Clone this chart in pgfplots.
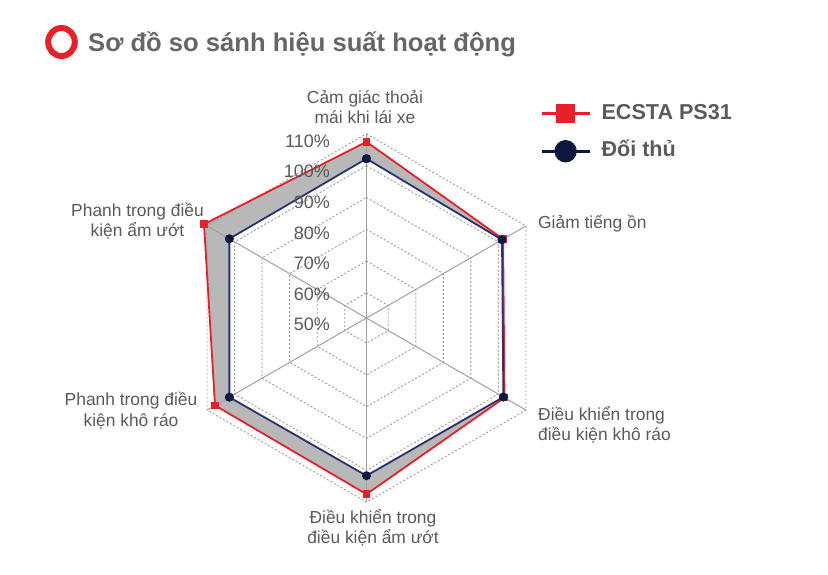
\documentclass[border=0pt]{standalone}
\usepackage{fontspec}
\setmainfont{Liberation Sans}
\usepackage{pgfplots}
\usepackage{pgfplotstable}
\pgfplotsset{compat=1.18}

\definecolor{ecsta}{RGB}{232,32,40}
\definecolor{doithu}{RGB}{40,50,115}
\definecolor{doithumark}{RGB}{12,24,66}
\definecolor{fillgray}{RGB}{184,184,184}
\definecolor{gridgray}{RGB}{155,155,155}
\definecolor{spokegray}{RGB}{160,160,160}
\definecolor{txt}{RGB}{90,90,90}
\definecolor{titlegray}{RGB}{102,102,102}

% radial scale: r = \rs*(value - \rz), in px (1px = 1pt)
\def\rs{3.18}
\def\rz{52.1}

% clockwise from the top
\pgfplotstableread{
ang ecsta doithu
90   107.5 102.2
30   101.7 101.3
-30  102.2 101.8
-90  107.5 101.7
-150 107.1 101.9
150  111.1 101.9
90   107.5 102.2
}\radar

\pgfplotstableread{
ang d
90   0
30   0
-30  0
-90  0
-150 0
150  0
90   0
}\hexa

\pgfplotstableread{
v d
0 0
1 0
}\spoke

\begin{document}
\begin{tikzpicture}
\begin{axis}[
  x=1pt, y=1pt,
  scale only axis,
  hide axis,
  xmin=-366.5, xmax=461.5,
  ymin=-257, ymax=318,
  clip=false,
  every node/.style={inner sep=0pt, text=txt},
  legend style={
    at={(axis cs:173.5,185.5)}, anchor=west,
    draw=none, fill=none,
    font=\bfseries\fontsize{21.6}{26}\selectfont,
    text=txt,
    row sep=16.5pt,
    inner sep=0pt,
    nodes={inner sep=0pt, text height=16pt, text depth=5pt},
    /tikz/every odd column/.append style={column sep=10.5pt},
  },
  legend cell align=left,
]

% gray band between the two polygons
\addplot[draw=none, fill=fillgray, forget plot]
  table[x expr={\rs*(\thisrow{ecsta}-\rz)*cos(\thisrow{ang})},
        y expr={\rs*(\thisrow{ecsta}-\rz)*sin(\thisrow{ang})}] {\radar};
\addplot[draw=none, fill=white, forget plot]
  table[x expr={\rs*(\thisrow{doithu}-\rz)*cos(\thisrow{ang})},
        y expr={\rs*(\thisrow{doithu}-\rz)*sin(\thisrow{ang})}] {\radar};

% hexagonal grid
\pgfplotsinvokeforeach{60,70,80,90,100,110}{
  \addplot[gridgray, line width=0.9pt, dash pattern=on 2pt off 2pt, forget plot]
    table[x expr={\rs*(#1-\rz)*cos(\thisrow{ang})},
          y expr={\rs*(#1-\rz)*sin(\thisrow{ang})}] {\hexa};
}
\pgfplotsinvokeforeach{90,30,-30,-90,-150,150}{
  \addplot[spokegray, line width=1pt, forget plot]
    table[x expr={\thisrow{v}*\rs*(110-\rz)*cos(#1)},
          y expr={\thisrow{v}*\rs*(110-\rz)*sin(#1)}] {\spoke};
}

% series
\addplot[ecsta, line width=1.8pt, mark=square*, mark size=2.8pt,
  mark options={fill=ecsta, draw=ecsta},
  legend image code/.code={
    \draw[ecsta, line width=2.8pt] (0pt,0pt) -- (48pt,0pt);
    \draw[ecsta, fill=ecsta] plot[mark=square*, mark size=8.5pt] coordinates {(24pt,0pt)};
  }]
  table[x expr={\rs*(\thisrow{ecsta}-\rz)*cos(\thisrow{ang})},
        y expr={\rs*(\thisrow{ecsta}-\rz)*sin(\thisrow{ang})}] {\radar};
\addlegendentry{ECSTA PS31}

\addplot[doithu, line width=1.8pt, mark=*, mark size=3.6pt,
  mark options={fill=doithumark, draw=doithumark},
  legend image code/.code={
    \draw[doithumark, line width=2.8pt] (0pt,0pt) -- (48pt,0pt);
    \draw[doithumark, fill=doithumark] plot[mark=*, mark size=10.3pt] coordinates {(24pt,0pt)};
  }]
  table[x expr={\rs*(\thisrow{doithu}-\rz)*cos(\thisrow{ang})},
        y expr={\rs*(\thisrow{doithu}-\rz)*sin(\thisrow{ang})}] {\radar};
\addlegendentry{Đối thủ}

% radial tick labels
\begin{scope}[every node/.style={inner sep=0pt, text=txt, anchor=east,
    font=\fontsize{18}{20}\selectfont}]
\node at (axis cs:-36.5,177)   {110\%};
\node at (axis cs:-36.5,146.5) {100\%};
\node at (axis cs:-36.5,115.5) {90\%};
\node at (axis cs:-36.5,85)    {80\%};
\node at (axis cs:-36.5,54.5)  {70\%};
\node at (axis cs:-36.5,24)    {60\%};
\node at (axis cs:-36.5,-6.5)  {50\%};
\end{scope}

% category labels
\begin{scope}[every node/.style={inner sep=0pt, text=txt,
    font=\fontsize{17.4}{20.5}\selectfont}]
\node[align=center] at (axis cs:-1.5,211) {Cảm giác thoải\\mái khi lái xe};
\node[anchor=west] at (axis cs:171.5,94.7) {Giảm tiếng ồn};
\node[anchor=west, align=left] at (axis cs:171.5,-107) {Điều khiển trong\\điều kiện khô ráo};
\node[align=center] at (axis cs:6.5,-210) {Điều khiển trong\\điều kiện ẩm ướt};
\node[align=center] at (axis cs:-235.5,-92.5) {Phanh trong điều\\kiện khô ráo};
\node[align=center] at (axis cs:-229,97) {Phanh trong điều\\kiện ẩm ướt};
\end{scope}

% title
\draw[ecsta, line width=6pt] (axis cs:-305,276) ellipse [x radius=13.3pt, y radius=14pt];
\node[anchor=base west, inner sep=0pt, text=titlegray,
  font=\bfseries\fontsize{25.6}{30}\selectfont] at (axis cs:-278.5,266.3)
  {Sơ đồ so sánh hiệu suất hoạt động};

\end{axis}
\pgfresetboundingbox
\path[use as bounding box] (current axis.south west) rectangle (current axis.north east);
\end{tikzpicture}
\end{document}
